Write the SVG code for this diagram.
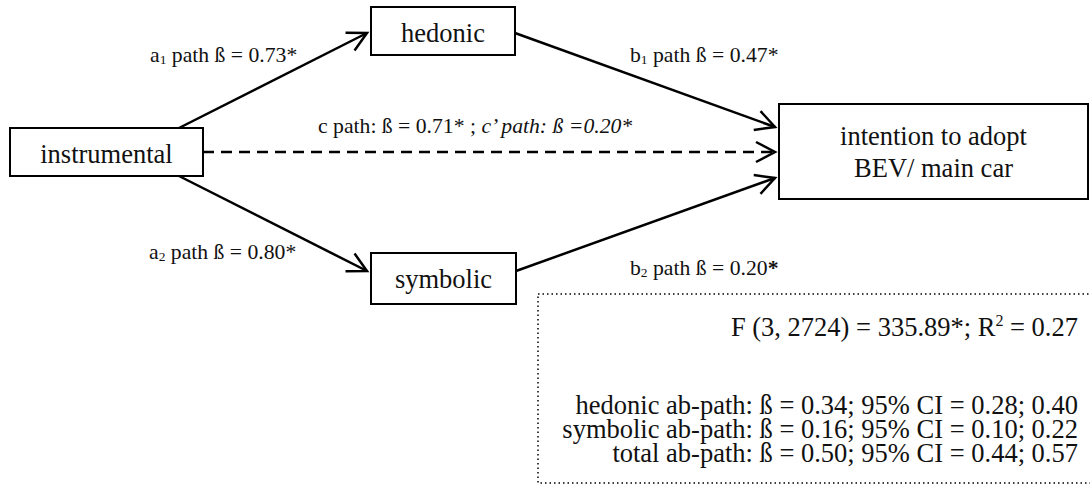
<svg xmlns="http://www.w3.org/2000/svg" width="1090" height="488" viewBox="0 0 1090 488">
<style>
.box{fill:#fff;stroke:#000;stroke-width:2}
.t{font-family:"Liberation Serif","Times New Roman",serif;font-size:26.5px;fill:#111}
.lbl{font-family:"Liberation Serif","Times New Roman",serif;font-size:21.7px;fill:#111}
.c{text-anchor:middle}
.r{text-anchor:end}
.ln{stroke:#000;stroke-width:2.5;fill:none;marker-end:url(#ah)}
.dash{stroke-dasharray:11 7}
.sub{font-size:13.5px}
</style>
<defs>
<marker id="ah" markerUnits="userSpaceOnUse" markerWidth="24" markerHeight="24" viewBox="0 0 24 24" refX="21" refY="12" orient="auto">
<path d="M2,2 L21,12 L2,22" fill="none" stroke="#000" stroke-width="2.5"/>
</marker>
</defs>
<g id="connectors">
<line class="ln" x1="179" y1="128" x2="367" y2="33"/>
<line class="ln" x1="515" y1="33" x2="775" y2="127"/>
<line class="ln dash" x1="203" y1="152" x2="775" y2="152"/>
<line class="ln" x1="179" y1="176" x2="367" y2="271"/>
<line class="ln" x1="516" y1="271" x2="775" y2="178"/>
<text class="lbl" x="150" y="62">a<tspan class="sub" dy="2">1</tspan><tspan dy="-2"> path ß = 0.73*</tspan></text>
<text class="lbl" x="630" y="62">b<tspan class="sub" dy="2">1</tspan><tspan dy="-2"> path ß = 0.47*</tspan></text>
<text class="lbl" x="318" y="133">c path: ß = 0.71* ; <tspan font-style="italic">c’ path: ß =0.20*</tspan></text>
<text class="lbl" x="149" y="259">a<tspan class="sub" dy="2">2</tspan><tspan dy="-2"> path ß = 0.80*</tspan></text>
<text class="lbl" x="630" y="275">b<tspan class="sub" dy="2">2</tspan><tspan dy="-2"> path ß = 0.20<tspan font-weight="bold">*</tspan></tspan></text>
</g>
<g id="instrumental">
<rect class="box" x="10" y="128" width="193" height="48"/>
<text class="t c" x="106.5" y="163">instrumental</text>
</g>
<g id="hedonic">
<rect class="box" x="371" y="7" width="144" height="48"/>
<text class="t c" x="443" y="42">hedonic</text>
</g>
<g id="symbolic">
<rect class="box" x="371" y="253" width="145" height="51"/>
<text class="t c" x="443.5" y="288">symbolic</text>
</g>
<g id="intention">
<rect class="box" x="779" y="104" width="309" height="95"/>
<text class="t c" x="933.5" y="145">intention to adopt</text>
<text class="t c" x="933.5" y="177">BEV/ main car</text>
</g>
<g id="stats">
<rect x="538" y="294" width="560" height="189" fill="none" stroke="#000" stroke-width="1.5" stroke-dasharray="1.5 3"/>
<text class="t r" x="1078" y="336">F (3, 2724) = 335.89*; R<tspan font-size="16" dy="-10">2</tspan><tspan dy="10"> = 0.27</tspan></text>
<text class="t r" x="1078" y="414">hedonic ab-path: ß = 0.34; 95% CI = 0.28; 0.40</text>
<text class="t r" x="1078" y="438">symbolic ab-path: ß = 0.16; 95% CI = 0.10; 0.22</text>
<text class="t r" x="1078" y="462">total ab-path: ß = 0.50; 95% CI = 0.44; 0.57</text>
</g>
</svg>
